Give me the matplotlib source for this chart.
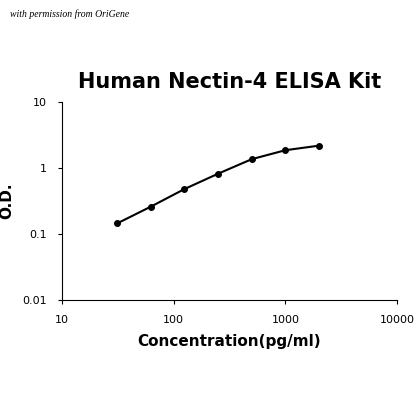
import matplotlib
matplotlib.use("Agg")
import matplotlib.pyplot as plt
from matplotlib.ticker import FixedLocator, NullLocator

conc = [31.25, 62.5, 125, 250, 500, 1000, 2000]
od = [0.145, 0.26, 0.48, 0.82, 1.36, 1.86, 2.18]
xticks = [10, 100, 1000, 10000]
yticks = [0.01, 0.1, 1, 10]

fig = plt.figure(figsize=(4.2, 4.2), dpi=100)
ax = fig.add_axes([62 / 420, 1 - 300 / 420, 335 / 420, 198 / 420])
ax.plot(conc, od, color="black", lw=1.5, marker="o", ms=4)
ax.set_xscale("log")
ax.set_yscale("log")
ax.set_xlim(10, 10000)
ax.set_ylim(0.01, 10)
ax.xaxis.set_major_locator(FixedLocator(xticks))
ax.yaxis.set_major_locator(FixedLocator(yticks))
ax.xaxis.set_minor_locator(NullLocator())
ax.yaxis.set_minor_locator(NullLocator())
ax.set_xticklabels([str(t) for t in xticks], fontsize=8)
ax.set_yticklabels(["0.01", "0.1", "1", "10"], fontsize=8)
ax.tick_params(direction="out", length=3, pad=8)
for s in ["top", "right"]:
    ax.spines[s].set_visible(False)
ax.set_title("Human Nectin-4 ELISA Kit", fontsize=15, fontweight="bold", pad=10)
ax.set_xlabel("Concentration(pg/ml)", fontsize=11, fontweight="bold", labelpad=6)
ax.set_ylabel("O.D.", fontsize=11, fontweight="bold", labelpad=6)
fig.text(10 / 420, 1 - 17 / 420, "with permission from OriGene", fontsize=7,
         style="italic", family="Liberation Serif")
fig.savefig("out.png", dpi=100)
